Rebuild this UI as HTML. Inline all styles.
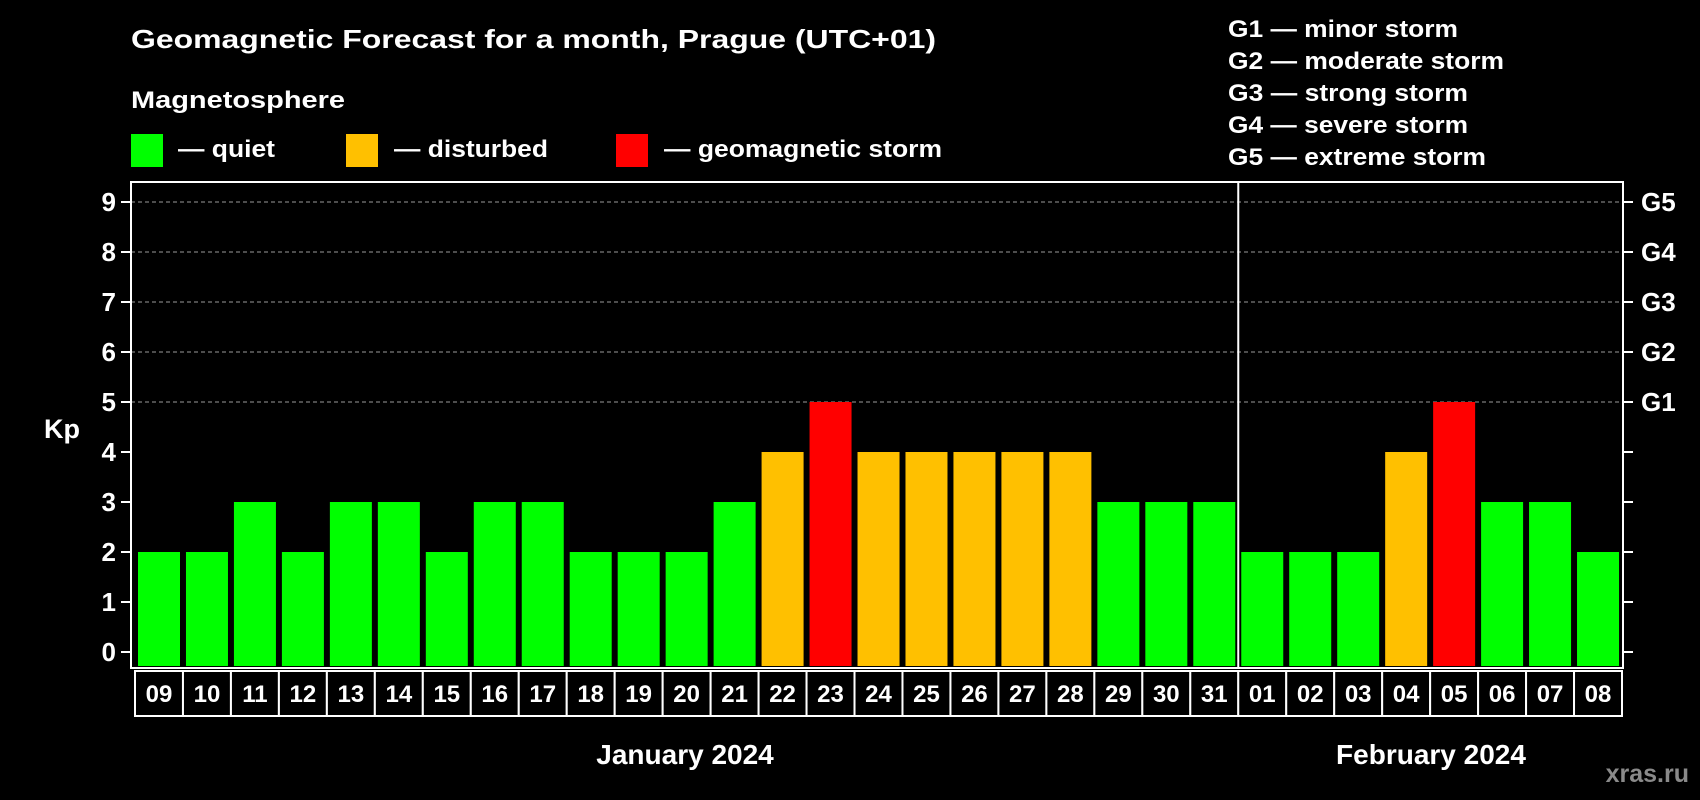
<!DOCTYPE html>
<html><head><meta charset="utf-8"><style>
html,body{margin:0;padding:0;background:#000;}
svg{display:block;font-family:"Liberation Sans",Arial,sans-serif;font-weight:bold;}
</style></head><body>
<svg id="chart" width="1700" height="800" viewBox="0 0 1700 800" xmlns="http://www.w3.org/2000/svg">
<rect x="0" y="0" width="1700" height="800" fill="#000"/>
<text x="131" y="48" fill="#fff" font-size="26" textLength="805" lengthAdjust="spacingAndGlyphs">Geomagnetic Forecast for a month, Prague (UTC+01)</text>
<text x="131" y="108" fill="#fff" font-size="24" textLength="214" lengthAdjust="spacingAndGlyphs">Magnetosphere</text>
<g>
<rect x="131" y="134" width="32" height="33" fill="#00ff00"/>
<text x="178" y="157" fill="#fff" font-size="24" textLength="97" lengthAdjust="spacingAndGlyphs">— quiet</text>
</g>
<g>
<rect x="346" y="134" width="32" height="33" fill="#ffc000"/>
<text x="394" y="157" fill="#fff" font-size="24" textLength="154" lengthAdjust="spacingAndGlyphs">— disturbed</text>
</g>
<g>
<rect x="616" y="134" width="32" height="33" fill="#ff0000"/>
<text x="664" y="157" fill="#fff" font-size="24" textLength="278" lengthAdjust="spacingAndGlyphs">— geomagnetic storm</text>
</g>
<g fill="#fff" font-size="24">
<text x="1228" y="37" textLength="230" lengthAdjust="spacingAndGlyphs">G1 — minor storm</text>
<text x="1228" y="69" textLength="276" lengthAdjust="spacingAndGlyphs">G2 — moderate storm</text>
<text x="1228" y="101" textLength="240" lengthAdjust="spacingAndGlyphs">G3 — strong storm</text>
<text x="1228" y="133" textLength="240" lengthAdjust="spacingAndGlyphs">G4 — severe storm</text>
<text x="1228" y="165" textLength="258" lengthAdjust="spacingAndGlyphs">G5 — extreme storm</text>
</g>
<g id="grid"></g>
<g id="bars"></g>
<g id="axes"></g>
<text x="62" y="438" fill="#fff" font-size="27" text-anchor="middle">Kp</text>
<text x="685" y="764" fill="#fff" font-size="28" text-anchor="middle">January 2024</text>
<text x="1431" y="764" fill="#fff" font-size="28" text-anchor="middle">February 2024</text>
<text x="1689" y="782" fill="#8a8a8a" font-size="25" text-anchor="end">xras.ru</text>
</svg>
<script>
const days = ["09","10","11","12","13","14","15","16","17","18","19","20","21","22","23","24","25","26","27","28","29","30","31","01","02","03","04","05","06","07","08"];
const kpValues = [2,2,3,2,3,3,2,3,3,2,2,2,3,4,5,4,4,4,4,4,3,3,3,2,2,2,4,5,3,3,2];
const yTicks = [0,1,2,3,4,5,6,7,8,9];
const gLabels = ["G1","G2","G3","G4","G5"];
const gLevels = [5,6,7,8,9];
const monthBreakIndex = 23;

const NS = "http://www.w3.org/2000/svg";
const plotL = 131, plotR = 1623, plotT = 182, plotB = 668;
const y0 = 652, unit = 50;
const bandStart = 135, bandW = (1622 - 135) / days.length;
function yScale(v){ return y0 - v * unit; }
function xBand(i){ return bandStart + i * bandW; }
function colorFor(v){ return v >= 5 ? "#ff0000" : (v >= 4 ? "#ffc000" : "#00ff00"); }
function mk(tag, attrs, parent){
  const el = document.createElementNS(NS, tag);
  for (const k in attrs) el.setAttribute(k, attrs[k]);
  parent.appendChild(el);
  return el;
}
const grid = document.getElementById("grid");
const bars = document.getElementById("bars");
const axes = document.getElementById("axes");

gLevels.forEach(function(v){
  const ln = mk("line", {x1: plotL, x2: plotR, y1: yScale(v), y2: yScale(v), stroke: "#9a9a9a", "stroke-width": 1, "stroke-dasharray": "4,3"}, grid);
  
  
});

kpValues.forEach(function(v, i){
  const r = mk("rect", {x: xBand(i) + 3, y: yScale(v), width: 42, height: y0 - yScale(v) + 14, fill: colorFor(v)}, bars);
  
  
});

// frame
const frame = mk("rect", {x: plotL, y: plotT, width: plotR - plotL, height: plotB - plotT, fill: "none", stroke: "#fff", "stroke-width": 2}, axes);


const divX = (xBand(monthBreakIndex) + xBand(monthBreakIndex - 1) + bandW) / 2;
const div = mk("line", {x1: divX, x2: divX, y1: plotT, y2: plotB, stroke: "#fff", "stroke-width": 2}, axes);



yTicks.forEach(function(v){
  const t = mk("line", {x1: plotL - 10, x2: plotL, y1: yScale(v), y2: yScale(v), stroke: "#fff", "stroke-width": 2}, axes);
  
  
  const t2 = mk("line", {x1: plotR, x2: plotR + 10, y1: yScale(v), y2: yScale(v), stroke: "#fff", "stroke-width": 2}, axes);
  
  
  const lb = mk("text", {x: 116, y: yScale(v) + 9, fill: "#fff", "font-size": 26, "text-anchor": "end"}, axes);
  lb.textContent = v;
  
  
});

gLabels.forEach(function(g, i){
  const lb = mk("text", {x: 1641, y: yScale(gLevels[i]) + 9, fill: "#fff", "font-size": 26}, axes);
  lb.textContent = g;
  
  
});

days.forEach(function(d, i){
  const c = mk("rect", {x: xBand(i), y: 671, width: bandW, height: 45, fill: "#000", stroke: "#fff", "stroke-width": 2}, axes);
  
  
  const t = mk("text", {x: xBand(i) + bandW / 2, y: 702, fill: "#fff", "font-size": 24, "text-anchor": "middle"}, axes);
  t.textContent = d;
  
  
});
</script>
</body></html>
